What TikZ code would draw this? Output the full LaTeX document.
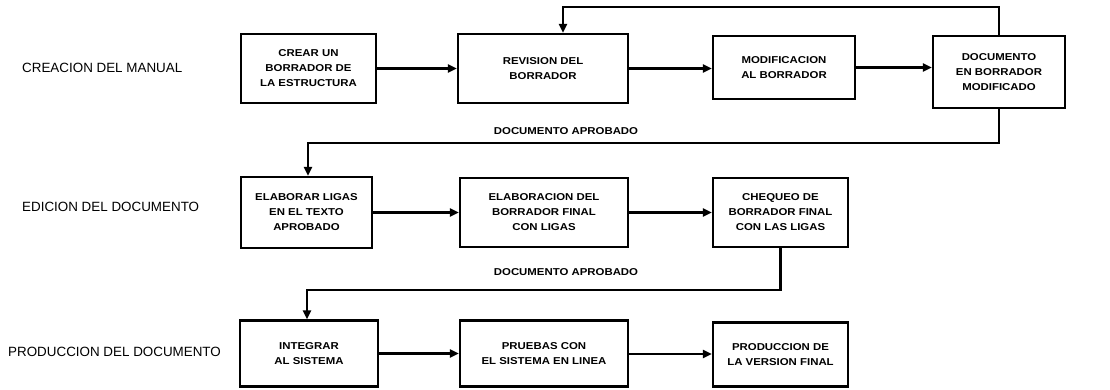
\documentclass[tikz,border=0pt]{standalone}
\usepackage{fontspec}
\setmainfont{Liberation Sans}
\newfontfamily\widesans[FakeStretch=1.14]{Liberation Sans}
\usetikzlibrary{arrows.meta}
\begin{document}
\begin{tikzpicture}[x=1pt,y=-1pt,
  box/.style={draw, line width=2.2pt, inner sep=0pt, align=center,
    font=\widesans\bfseries\fontsize{10}{15}\selectfont},
  flow/.style={line width=2.6pt, line join=miter,
    -{Triangle[length=9pt,width=8pt]}},
  lbl/.style={anchor=west, inner sep=0pt, font=\fontsize{13.4}{15}\selectfont},
  small/.style={inner sep=0pt, font=\widesans\bfseries\fontsize{10}{12}\selectfont}]
\useasboundingbox (0,0) rectangle (1110,389);

\node[lbl] (l1) at (22,68) {CREACION DEL MANUAL};
\node[lbl] (l2) at (22,207) {EDICION DEL DOCUMENTO};
\node[lbl] (l3) at (8,352) {PRODUCCION DEL DOCUMENTO};

\node[box, minimum width=135, minimum height=69] (crear) at (308.5,68.5)
  {CREAR UN\\BORRADOR DE\\LA ESTRUCTURA};
\node[box, minimum width=170, minimum height=69] (rev) at (543,68.5)
  {REVISION DEL\\BORRADOR};
\node[box, minimum width=142, minimum height=63] (modif) at (784,67.5)
  {MODIFICACION\\AL BORRADOR};
\node[box, minimum width=132, minimum height=72] (docum) at (999,72)
  {DOCUMENTO\\EN BORRADOR\\MODIFICADO};

\node[box, minimum width=131, minimum height=71] (elab) at (306.5,212.5)
  {ELABORAR LIGAS\\EN EL TEXTO\\APROBADO};
\node[box, minimum width=168, minimum height=69] (elabf) at (544,212.5)
  {ELABORACION DEL\\BORRADOR FINAL\\CON LIGAS};
\node[box, minimum width=135, minimum height=69] (cheq) at (780.5,212.5)
  {CHEQUEO DE\\BORRADOR FINAL\\CON LAS LIGAS};

\node[box, minimum width=138, minimum height=66] (integ) at (309,353.5)
  {INTEGRAR\\AL SISTEMA};
\node[box, minimum width=168, minimum height=66] (prueb) at (544,353.5)
  {PRUEBAS CON\\EL SISTEMA EN LINEA};
\node[box, minimum width=135, minimum height=64] (prod) at (780.5,354.5)
  {PRODUCCION DE\\LA VERSION FINAL};

\draw[flow] (crear) -- (rev);
\draw[flow] (rev.east) -- (rev.east -| modif.west);
\draw[flow] (modif.east |- 0,67.5) -- (docum.west |- 0,67.5);
\draw[flow] (elab.east) -- (elabf.west);
\draw[flow] (elabf.east) -- (cheq.west);
\draw[flow] (integ.east) -- (prueb.west);
\draw[flow] (prueb.east |- 0,354) -- (prod.west |- 0,354);

\coordinate (fb) at (563,7);
\draw[flow] (docum.north) |- (fb) -- (fb |- rev.north);

\coordinate (d1) at (308,143);
\draw[flow] (docum.south) |- (d1) -- (d1 |- elab.north);
\node[small] (ap1) at (566,131) {DOCUMENTO APROBADO};

\coordinate (d2) at (307,290);
\draw[flow] (cheq.south) |- (d2) -- (d2 |- integ.north);
\node[small] (ap2) at (566,272) {DOCUMENTO APROBADO};
\end{tikzpicture}
\end{document}
